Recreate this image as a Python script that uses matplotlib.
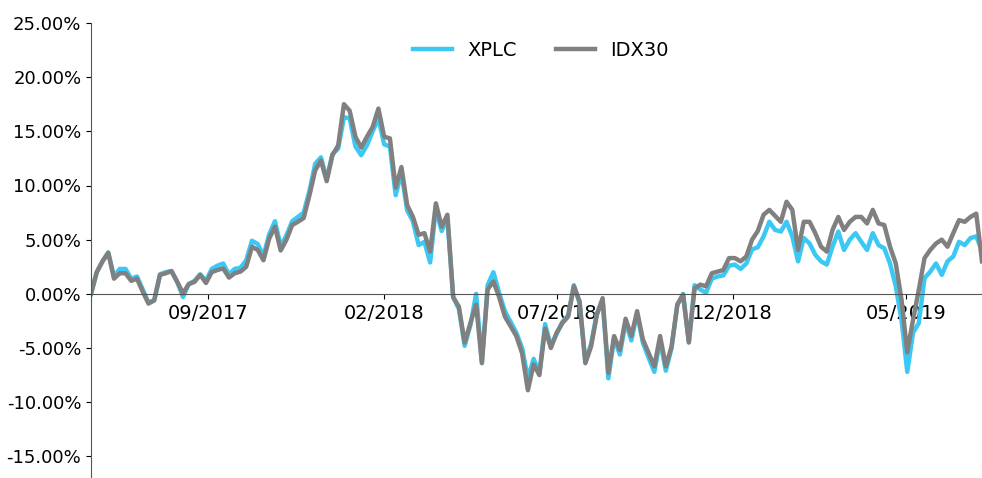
import pandas as pd
import matplotlib
matplotlib.use('Agg')
import matplotlib.pyplot as plt
import matplotlib.dates as mdates
from matplotlib.ticker import FuncFormatter

# cumulative return (%), one reading every 5 calendar days from 2017-05-22
dates = pd.date_range('2017-05-22', periods=156, freq='5D')

xplc = [
    0.0, 2.0, 3.0, 3.8, 1.6, 2.3, 2.3, 1.4, 1.6, 0.4,
    -0.8, -0.6, 1.8, 2.0, 2.1, 1.1, -0.3, 0.9, 1.2, 1.8,
    1.2, 2.3, 2.6, 2.8, 1.8, 2.3, 2.4, 3.1, 4.9, 4.6,
    3.5, 5.5, 6.7, 4.4, 5.4, 6.7, 7.1, 7.5, 9.5, 12.0,
    12.6, 10.6, 12.9, 13.4, 16.3, 16.2, 13.6, 12.8, 13.7, 15.0,
    16.2, 13.8, 13.6, 9.1, 11.2, 7.7, 6.7, 4.5, 4.8, 2.9,
    7.9, 5.8, 7.0, -0.3, -1.4, -4.8, -2.9, 0.0, -6.3, 0.8,
    2.0, 0.1, -1.6, -2.6, -3.6, -5.0, -7.8, -6.0, -7.3, -2.8,
    -4.8, -3.7, -2.6, -2.0, 0.8, -0.9, -6.3, -4.6, -1.8, -0.6,
    -7.8, -4.1, -5.6, -2.6, -4.3, -1.8, -4.5, -5.9, -7.2, -4.3,
    -7.1, -5.0, -1.0, 0.0, -4.4, 0.8, 0.4, 0.1, 1.4, 1.6,
    1.7, 2.6, 2.7, 2.3, 2.8, 4.1, 4.3, 5.3, 6.65, 5.9,
    5.75, 6.65, 5.3, 3.0, 5.15, 4.65, 3.6, 3.0, 2.7, 4.35,
    5.75, 4.05, 5.0, 5.6, 4.8, 4.05, 5.6, 4.5, 4.2, 2.8,
    0.7, -2.4, -7.2, -3.6, -2.7, 1.45, 2.05, 2.8, 1.75, 3.0,
    3.45, 4.8, 4.5, 5.15, 5.3, 4.0,
]

idx30 = [
    0.0, 2.0, 3.0, 3.8, 1.4, 1.9, 1.9, 1.2, 1.4, 0.2,
    -0.9, -0.6, 1.75, 1.9, 2.1, 1.1, 0.05, 0.9, 1.1, 1.75,
    1.0, 2.0, 2.2, 2.35, 1.5, 1.9, 2.05, 2.5, 4.35, 4.05,
    3.1, 5.1, 6.2, 4.0, 5.0, 6.35, 6.65, 7.0, 9.1, 11.4,
    12.3, 10.4, 12.8, 13.7, 17.5, 16.9, 14.5, 13.5, 14.5, 15.4,
    17.1, 14.5, 14.35, 9.8, 11.7, 8.2, 7.1, 5.45, 5.6, 3.9,
    8.35, 6.2, 7.3, -0.3, -1.2, -4.5, -2.7, -1.0, -6.4, 0.4,
    1.15, -0.3, -2.1, -3.0, -3.9, -5.5, -8.9, -6.5, -7.5, -3.2,
    -5.0, -3.6, -2.7, -2.1, 0.7, -0.7, -6.4, -4.85, -1.95, -0.4,
    -7.3, -3.9, -5.2, -2.3, -3.9, -1.6, -4.2, -5.45, -6.7, -3.9,
    -6.7, -4.85, -1.0, -0.1, -4.5, 0.5, 0.85, 0.7, 1.9, 2.05,
    2.2, 3.3, 3.3, 3.0, 3.45, 5.0, 5.8, 7.3, 7.75, 7.2,
    6.65, 8.5, 7.75, 4.05, 6.65, 6.65, 5.6, 4.35, 3.9, 5.9,
    7.1, 5.9, 6.65, 7.1, 7.1, 6.5, 7.75, 6.5, 6.35, 4.35,
    2.8, -0.55, -5.4, -2.4, 0.35, 3.3, 4.05, 4.65, 5.0, 4.35,
    5.6, 6.8, 6.65, 7.1, 7.4, 3.0,
]

tick_dates = pd.to_datetime(['2017-09-01', '2018-02-01', '2018-07-01',
                             '2018-12-01', '2019-05-01'])
y_ticks = [-15, -10, -5, 0, 5, 10, 15, 20, 25]

fig = plt.figure(figsize=(9.82, 4.78), dpi=100)
ax = fig.add_axes([91 / 982, 0.0, 1 - 91 / 982, 1 - 23 / 478])

ax.plot(dates, xplc, color='#3CC8F4', lw=3.2, label='XPLC')
ax.plot(dates, idx30, color='#808080', lw=3.2, label='IDX30')

ax.set_xlim(dates[0], dates[-1])
ax.set_ylim(-17, 25)
ax.set_yticks(y_ticks)
ax.yaxis.set_major_formatter(FuncFormatter(lambda v, _: f'{v:.2f}%'))
ax.set_xticks(tick_dates)
ax.xaxis.set_major_formatter(mdates.DateFormatter('%m/%Y'))
ax.tick_params(axis='x', labelsize=14)
ax.tick_params(axis='y', labelsize=13)

ax.spines['top'].set_visible(False)
ax.spines['right'].set_visible(False)
ax.spines['bottom'].set_position(('data', 0))
ax.spines['bottom'].set_color('#555555')
ax.spines['left'].set_color('#555555')

ax.legend(loc='upper center', ncol=2, frameon=False, fontsize=14,
          bbox_to_anchor=(0.505, 1.0))

fig.savefig('out.png', dpi=100)
plt.close(fig)
